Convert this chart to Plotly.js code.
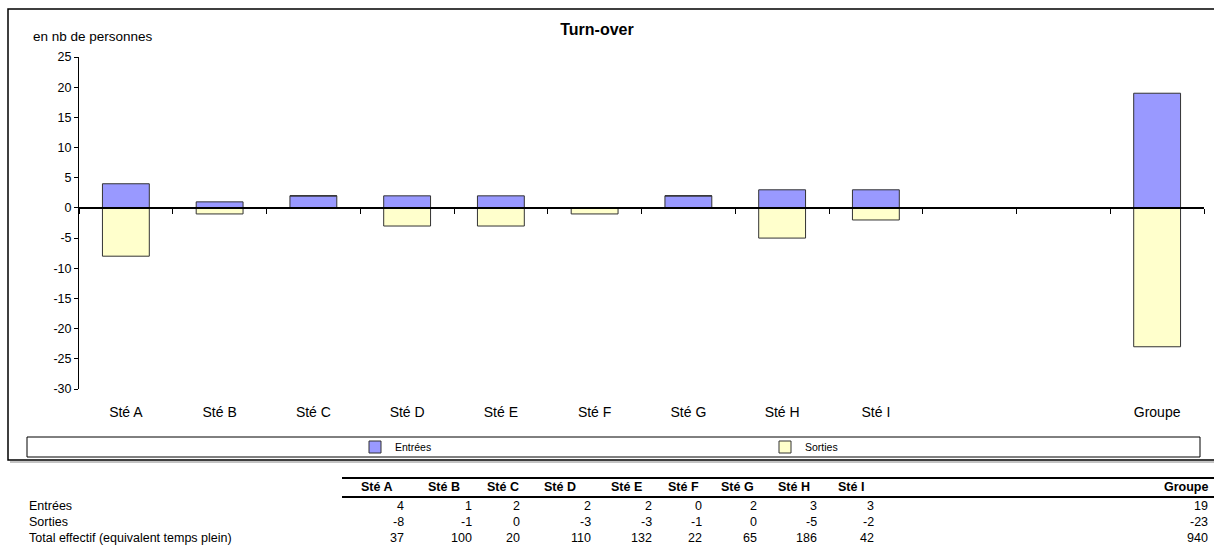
<!DOCTYPE html>
<html>
<head>
<meta charset="utf-8">
<script src="https://cdn.plot.ly/plotly-3.0.1.min.js"></script>
<style>html,body{margin:0;padding:0;background:#fff;}#chart{width:1214px;height:552px;}</style>
</head>
<body>
<div id="chart"></div>
<script>
// ---- Data ----
const xCategories = ['Sté A','Sté B','Sté C','Sté D','Sté E','Sté F','Sté G','Sté H','Sté I',' ','  ','Groupe'];
const societes = ['Sté A','Sté B','Sté C','Sté D','Sté E','Sté F','Sté G','Sté H','Sté I','Groupe'];
const entrees = [4,1,2,2,2,0,2,3,3,19];
const sorties = [-8,-1,0,-3,-3,-1,0,-5,-2,-23];
const effectif = [37,100,20,110,132,22,65,186,42,940];
const rowLabels = ['Entrées','Sorties','Total effectif (equivalent temps plein)'];
const seriesNames = ['Entrées','Sorties'];
const yTitle = 'en nb de personnes';
const chartTitle = 'Turn-over';

// ---- Layout helpers (pixel -> paper) ----
const W = 1214, H = 552;
const PL = 79, PR = 1204, PT = 57, PB = 389;
const px = p => (p - PL) / (PR - PL);
const py = p => (PB - p) / (PB - PT);
const yMin = -30, yMax = 25, yStep = 5;

const xPos = societes.map(s => xCategories.indexOf(s));
const FONT = 'Liberation Sans, Arial, sans-serif';

const traces = [
  {type:'bar', name:seriesNames[0], x:xPos, y:entrees,
   marker:{color:'#9999FF', line:{color:'#333333', width:1}}, hoverinfo:'x+y'},
  {type:'bar', name:seriesNames[1], x:xPos, y:sorties,
   marker:{color:'#FFFFCC', line:{color:'#333333', width:1}}, hoverinfo:'x+y'},
  {type:'scatter', x:[0], y:[0], xaxis:'x2', mode:'markers', marker:{opacity:0},
   showlegend:false, hoverinfo:'skip'}
];

// y ticks with plain hyphen-minus
const yTickVals = [];
for (let v = yMin; v <= yMax; v += yStep) yTickVals.push(v);
const yTickText = yTickVals.map(v => String(v));

// table columns geometry
const valueRight = [406, 474, 522, 593, 654, 704, 759, 819, 876, 1210];
const headerCenter = [377, 444, 503, 560, 626, 683, 737, 794, 851];
const rowY = [506, 522, 538];
const headerY = 487;
const TFS = 12.5;

const annotations = [];
annotations.push({xref:'paper', yref:'paper', x:px(31), y:py(36), xanchor:'left', yanchor:'middle',
  text:yTitle, showarrow:false, font:{family:FONT, size:13.5, color:'#000'}});

// header
societes.forEach((s, i) => {
  const isLast = i === societes.length - 1;
  annotations.push({xref:'paper', yref:'paper',
    x: isLast ? px(valueRight[i]) : px(headerCenter[i]), y:py(headerY),
    xanchor: isLast ? 'right' : 'center', yanchor:'middle',
    text:'<b>' + s + '</b>', showarrow:false, font:{family:FONT, size:TFS, color:'#000'}});
});
// row labels
rowLabels.forEach((r, k) => {
  annotations.push({xref:'paper', yref:'paper', x:px(27), y:py(rowY[k]), xanchor:'left', yanchor:'middle',
    text:r, showarrow:false, font:{family:FONT, size:TFS, color:'#000'}});
});
// values
[entrees, sorties, effectif].forEach((arr, k) => {
  arr.forEach((v, i) => {
    annotations.push({xref:'paper', yref:'paper', x:px(valueRight[i]), y:py(rowY[k]),
      xanchor:'right', yanchor:'middle', text:String(v), showarrow:false,
      font:{family:FONT, size:TFS, color:'#000'}});
  });
});

const shapes = [
  // outer chart frame
  {type:'rect', xref:'paper', yref:'paper', x0:px(8), x1:px(1220), y0:py(9), y1:py(460),
   line:{color:'#000', width:1.5}, layer:'below'},
  {type:'line', xref:'paper', yref:'paper', x0:px(10), x1:px(1214), y0:py(462), y1:py(462),
   line:{color:'#888', width:1}},
  // legend box
  {type:'rect', xref:'paper', yref:'paper', x0:px(27), x1:px(1200), y0:py(437), y1:py(457),
   line:{color:'#000', width:1}},
  // table lines
  {type:'line', xref:'paper', yref:'paper', x0:px(342), x1:px(1214), y0:py(478), y1:py(478),
   line:{color:'#000', width:2}},
  {type:'line', xref:'paper', yref:'paper', x0:px(342), x1:px(1214), y0:py(497), y1:py(497),
   line:{color:'#000', width:2}}
];

const boundaries = [];
for (let i = 0; i <= xCategories.length; i++) boundaries.push(i - 0.5);

const layout = {
  width:W, height:H,
  margin:{l:PL, r:W-PR, t:PT, b:H-PB, pad:0},
  paper_bgcolor:'#fff', plot_bgcolor:'#fff',
  font:{family:FONT, size:11, color:'#000'},
  title:{text:'<b>' + chartTitle + '</b>', x:597/W, xref:'container', xanchor:'center',
         y:1-29/H, yref:'container', yanchor:'middle', font:{family:FONT, size:16, color:'#000'}},
  barmode:'relative', bargap:0.5,
  showlegend:true,
  legend:{orientation:'h', x:px(355), xanchor:'left', y:py(447), yanchor:'middle',
          entrywidth:365, entrywidthmode:'pixels', font:{family:FONT, size:10.5, color:'#000'},
          bgcolor:'rgba(0,0,0,0)', borderwidth:0, traceorder:'normal'},
  xaxis:{range:[-0.5, xCategories.length - 0.5], tickmode:'array',
         tickvals:xCategories.map((c, i) => i), ticktext:xCategories,
         ticks:'outside', ticklen:10, tickcolor:'rgba(0,0,0,0)', showline:false,
         showgrid:false, zeroline:false, fixedrange:true,
         tickfont:{family:FONT, size:14, color:'#000'}},
  xaxis2:{overlaying:'x', anchor:'free', position:(0 - yMin)/(yMax - yMin),
          range:[-0.5, xCategories.length - 0.5], tickmode:'array', tickvals:boundaries,
          ticks:'outside', ticklen:5, tickwidth:1, tickcolor:'#000',
          showticklabels:false, showline:true, linewidth:2, linecolor:'#000',
          showgrid:false, zeroline:false, fixedrange:true},
  yaxis:{range:[yMin, yMax], tickmode:'array', tickvals:yTickVals, ticktext:yTickText,
         ticks:'outside', ticklen:4, tickcolor:'#000',
         showline:true, linecolor:'#000', linewidth:1, showgrid:false, zeroline:false,
         tickfont:{family:FONT, size:12.5, color:'#000'}, fixedrange:true},
  annotations:annotations,
  shapes:shapes
};

Plotly.newPlot('chart', traces, layout, {displayModeBar:false, staticPlot:true});
</script>
</body>
</html>
